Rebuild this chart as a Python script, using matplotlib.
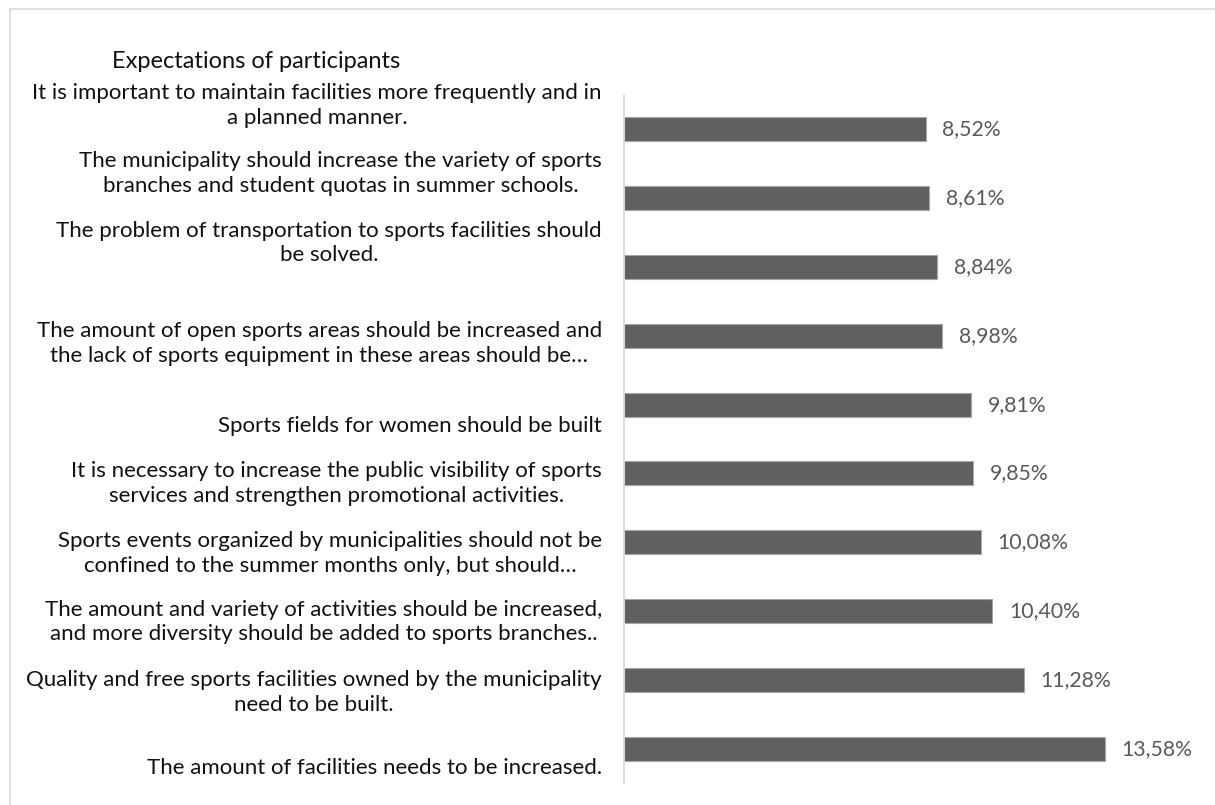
import matplotlib.pyplot as plt
from matplotlib.patches import Rectangle
from matplotlib.transforms import ScaledTranslation

# categories listed from top to bottom, as in the chart
categories = [
    "It is important to maintain facilities more frequently and in\na planned manner.",
    "The municipality should increase the variety of sports\nbranches and student quotas in summer schools.",
    "The problem of transportation to sports facilities should\nbe solved.",
    "The amount of open sports areas should be increased and\nthe lack of sports equipment in these areas should be…",
    "Sports fields for women should be built",
    "It is necessary to increase the public visibility of sports\nservices and strengthen promotional activities.",
    "Sports events organized by municipalities should not be\nconfined to the summer months only, but should…",
    "The amount and variety of activities should be increased,\nand more diversity should be added to sports branches..",
    "Quality and free sports facilities owned by the municipality\nneed to be built.",
    "The amount of facilities needs to be increased.",
]
values = [8.52, 8.61, 8.84, 8.98, 9.81, 9.85, 10.08, 10.40, 11.28, 13.58]
value_labels = ["8,52%", "8,61%", "8,84%", "8,98%", "9,81%", "9,85%",
                "10,08%", "10,40%", "11,28%", "13,58%"]

# vertical shift (px, downwards) of each category label relative to its bar
label_shift = [-24, -25, -24, 8, 21, 10, 11, 11, 13, 19]

plt.rcParams['font.family'] = ['Lato', 'DejaVu Sans']

W, H = 1215, 805
fig = plt.figure(figsize=(W / 100, H / 100), dpi=100)
fig.patch.set_facecolor('white')

# light grey chart-area frame (left and top edges visible)
fig.patches.append(Rectangle((10 / W, -0.1), 1.2, 1 - 9 / H + 0.1,
                             transform=fig.transFigure, fill=False,
                             edgecolor='#d9d9d9', linewidth=1.2))

ax = fig.add_axes([624 / W, 1 - 783 / H, 15 * 35.42 / W, 688 / H])
ypos = list(range(len(values)))
ax.barh(ypos, values, height=0.35, color='#606060', edgecolor='#a6a6a6', linewidth=0.8)
ax.set_xlim(0, 15)
ax.set_ylim(len(values) - 0.5, -0.5)

for y, v, lab in zip(ypos, values, value_labels):
    ax.annotate(lab, (v, y), xytext=(12, 0), textcoords='offset points',
                va='center', ha='left', fontsize=15.3, color='#595959')

for y, cat, dy in zip(ypos, categories, label_shift):
    tr = ax.get_yaxis_transform() + ScaledTranslation(-22 / 100, -dy / 100, fig.dpi_scale_trans)
    ax.text(0, y, cat, transform=tr, ha='right', va='center', multialignment='center',
            fontsize=16, color='#111111', linespacing=1.3)

ax.set_yticks([])
ax.set_xticks([])
for s in ['top', 'right', 'bottom']:
    ax.spines[s].set_visible(False)
ax.spines['left'].set_color('#d9d9d9')
ax.spines['left'].set_linewidth(1.3)

fig.text(112 / W, 1 - 62 / H, "Expectations of participants", fontsize=17,
         color='#111111', ha='left', va='center')

fig.savefig('out.png', dpi=100)
